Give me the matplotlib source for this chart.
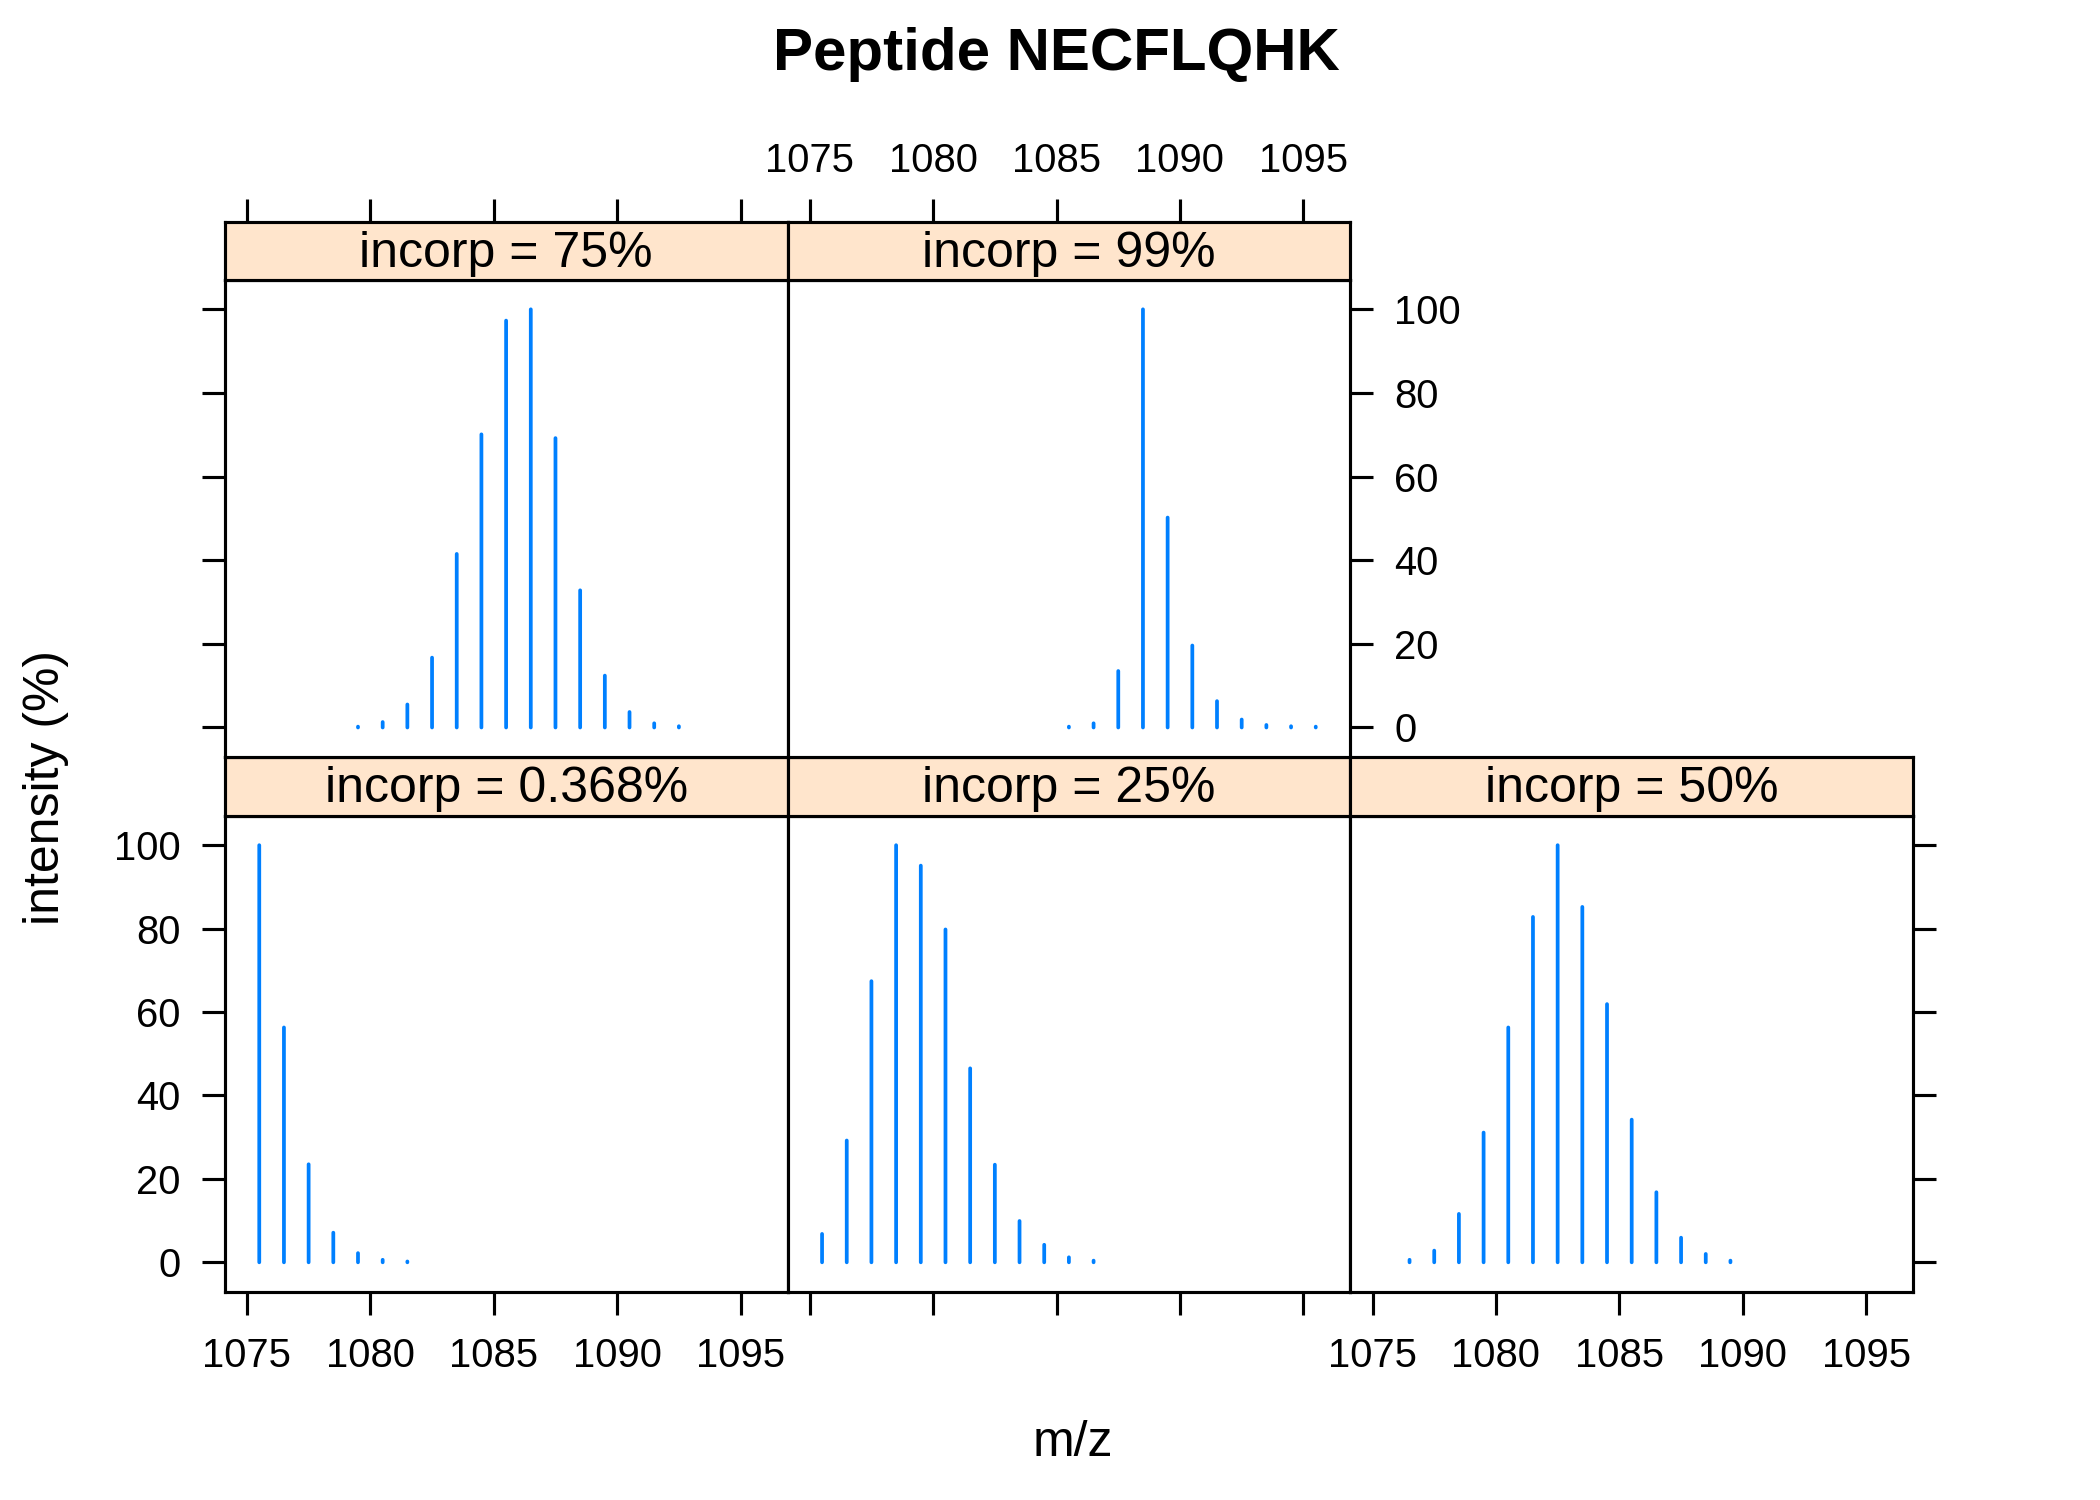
import matplotlib
matplotlib.use("Agg")
import matplotlib.pyplot as plt

plt.rcParams['font.family'] = ['Liberation Sans', 'DejaVu Sans']

# isotope envelopes, one per incorporation level
mz_0368 = [1075.5, 1076.5, 1077.5, 1078.5, 1079.5, 1080.5, 1081.5]
int_0368 = [100, 56.3, 23.5, 7.1, 2.2, 0.6, 0.2]

mz_25 = [1075.5, 1076.5, 1077.5, 1078.5, 1079.5, 1080.5, 1081.5, 1082.5,
         1083.5, 1084.5, 1085.5, 1086.5]
int_25 = [6.8, 29.2, 67.4, 100, 95.1, 79.8, 46.5, 23.4, 9.9, 4.2, 1.2, 0.4]

mz_50 = [1076.5, 1077.5, 1078.5, 1079.5, 1080.5, 1081.5, 1082.5, 1083.5,
         1084.5, 1085.5, 1086.5, 1087.5, 1088.5, 1089.5]
int_50 = [0.6, 2.8, 11.6, 31.1, 56.3, 82.8, 100, 85.2, 61.9, 34.2, 16.8, 5.9, 2.0, 0.4]

mz_75 = [1079.5, 1080.5, 1081.5, 1082.5, 1083.5, 1084.5, 1085.5, 1086.5,
         1087.5, 1088.5, 1089.5, 1090.5, 1091.5, 1092.5]
int_75 = [0.2, 1.3, 5.5, 16.7, 41.5, 70.1, 97.3, 100, 69.2, 32.8, 12.4, 3.7, 1.0, 0.3]

mz_99 = [1085.5, 1086.5, 1087.5, 1088.5, 1089.5, 1090.5, 1091.5, 1092.5,
         1093.5, 1094.5, 1095.5]
int_99 = [0.2, 1.0, 13.5, 100, 50.2, 19.6, 6.3, 1.9, 0.6, 0.3, 0.2]

labels = ['incorp = 0.368%', 'incorp = 25%', 'incorp = 50%',
          'incorp = 75%', 'incorp = 99%']
x_ticks = [1075, 1080, 1085, 1090, 1095]
y_ticks = [0, 20, 40, 60, 80, 100]

blue = '#0080FF'
peach = '#FFE5CC'
xlim = (1074.1, 1096.9)
ylim = (-7, 107)

fig = plt.figure(figsize=(7, 5), dpi=300)

col_x = [0.107, 0.375, 0.643]
col_w = 0.268
rows = {0: (0.139, 0.317, 0.456, 0.0395),      # bottom: panel y, h, strip y, h
        1: (0.4955, 0.3178, 0.8133, 0.0387)}   # top

# (data, row, col)
panels = [
    (mz_0368, int_0368, 0, 0, labels[0]),
    (mz_25, int_25, 0, 1, labels[1]),
    (mz_50, int_50, 0, 2, labels[2]),
    (mz_75, int_75, 1, 0, labels[3]),
    (mz_99, int_99, 1, 1, labels[4]),
]

lw = 0.75
tick_kw = dict(direction='out', length=5.5, width=lw, labelsize=9.6)

for mz, inten, r, c, lab in panels:
    py, ph, sy, sh = rows[r]
    ax = fig.add_axes([col_x[c], py, col_w, ph])
    # type="h" style sticks, round ends so the tiny peaks show as dots
    for x, y in zip(mz, inten):
        ax.plot([x, x], [0, y], color=blue, linewidth=0.9,
                solid_capstyle='round', snap=False)
    ax.set_xlim(*xlim)
    ax.set_ylim(*ylim)
    ax.set_xticks(x_ticks)
    ax.set_yticks(y_ticks)
    for s in ax.spines.values():
        s.set_linewidth(lw)
    ax.tick_params(**tick_kw)
    ax.tick_params(axis='x', pad=5.5)
    ax.tick_params(axis='y', pad=5)

    # which outer edges get ticks / labels (lattice alternating style)
    bottom = (r == 0)
    ax.tick_params(axis='x', bottom=bottom, labelbottom=bottom and c != 1,
                   top=False, labeltop=False)
    left = (c == 0)
    right = (r == 0 and c == 2) or (r == 1 and c == 1)
    ax.tick_params(axis='y', left=left, labelleft=left and r == 0,
                   right=right, labelright=(r == 1 and c == 1))

    # strip
    st = fig.add_axes([col_x[c], sy, col_w, sh])
    st.set_facecolor(peach)
    st.set_xlim(*xlim)
    st.set_ylim(0, 1)
    st.set_yticks([])
    for s in st.spines.values():
        s.set_linewidth(lw)
    st.text(0.5, 0.45, lab, transform=st.transAxes, ha='center', va='center',
            fontsize=12)
    st.set_xticks(x_ticks)
    st.tick_params(**tick_kw)
    st.tick_params(axis='x', pad=4.5, bottom=False, labelbottom=False,
                   top=(r == 1), labeltop=(r == 1 and c == 1))

fig.text(0.503, 0.964, 'Peptide NECFLQHK', ha='center', va='center',
         fontsize=14.4, fontweight='bold')
fig.text(0.511, 0.038, 'm/z', ha='center', va='center', fontsize=12)
fig.text(0.022, 0.475, 'intensity (%)', ha='center', va='center',
         rotation=90, fontsize=12)

fig.savefig('out.png', dpi=300)
